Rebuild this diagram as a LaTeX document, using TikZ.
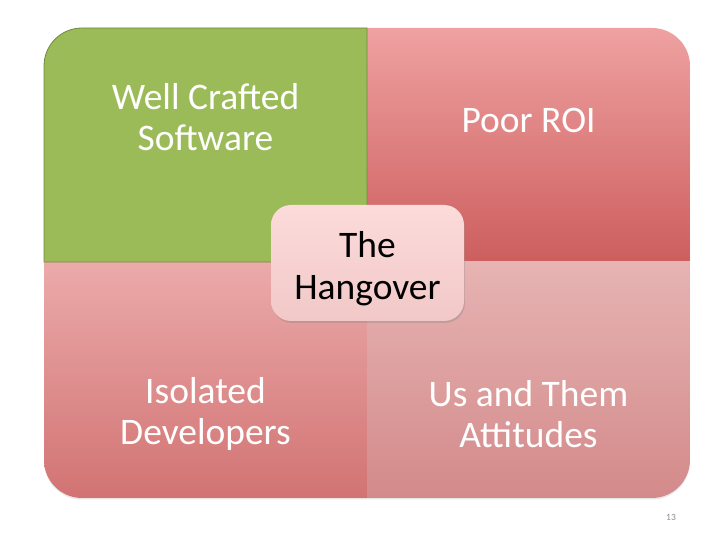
\documentclass[tikz,border=0pt]{standalone}
\usepackage{fontspec}
\setmainfont{Carlito}
\usetikzlibrary{shadows,calc}
\definecolor{leafgreen}{HTML}{9BBB59}
\definecolor{leafedge}{HTML}{71893E}
\definecolor{roitop}{HTML}{EFA1A1}
\definecolor{roibot}{HTML}{CD5E5E}
\definecolor{isotop}{HTML}{EBAAAA}
\definecolor{isobot}{HTML}{D27373}
\definecolor{ustop}{HTML}{E7B3B3}
\definecolor{usbot}{HTML}{D38A8A}
\definecolor{hubtop}{HTML}{FCDBDB}
\definecolor{hubbot}{HTML}{F2C8C8}
\tikzset{
    quadtext/.style = {text=white, inner sep=0pt, align=center,
        font=\fontsize{37.5}{41}\selectfont},
    hub/.style = {rounded corners=20pt, top color=hubtop, bottom color=hubbot,
        minimum width=193pt, minimum height=116pt, align=center,
        font=\fontsize{37.5}{42}\selectfont,
        drop shadow={opacity=0.3, shadow xshift=1pt, shadow yshift=-2pt}},
    pagenum/.style = {text=black!45, font=\fontsize{9.5}{10}\selectfont, inner sep=0pt}
}

\begin{document}
\begin{tikzpicture}[x=1pt, y=1pt]
    \useasboundingbox (0,0) rectangle (720,540);
    % frame and quadrants
    \path[rounded corners=38pt, fill=white,
        drop shadow={opacity=0.2, shadow xshift=0pt, shadow yshift=-1.5pt}]
        (44,42) rectangle (690,512);
    \begin{scope}
        \clip[rounded corners=38pt] (44,42) rectangle (690,512);
        \shade[top color=roitop, bottom color=roibot] (367,278) rectangle (690,512);
        \shade[top color=isotop, bottom color=isobot] (44,42) rectangle (367,278);
        \shade[top color=ustop, bottom color=usbot] (367,42) rectangle (690,278);
    \end{scope}
    \filldraw[fill=leafgreen, draw=leafedge, line width=0.8pt]
        (44,278) -- (44,474) arc[start angle=180, end angle=90, radius=38]
        -- (367,512) -- (367,278) -- cycle;
    % labels
    \node [quadtext] (well) at (205.5,422.5) {Well Crafted\\Software};
    \node [quadtext] (roi) at (528.5,420) {Poor ROI};
    \node [quadtext] (isolated) at (205.5,125.5) {Isolated\\Developers};
    \node [quadtext] (usthem) at (528.5,125.5) {Us and Them\\Attitudes};
    \node [hub] (hangover) at (367.5,277) {\rule{0pt}{37pt}The\\Hangover};
    \node [pagenum] (page) at (671,23) {13};
\end{tikzpicture}
\end{document}
